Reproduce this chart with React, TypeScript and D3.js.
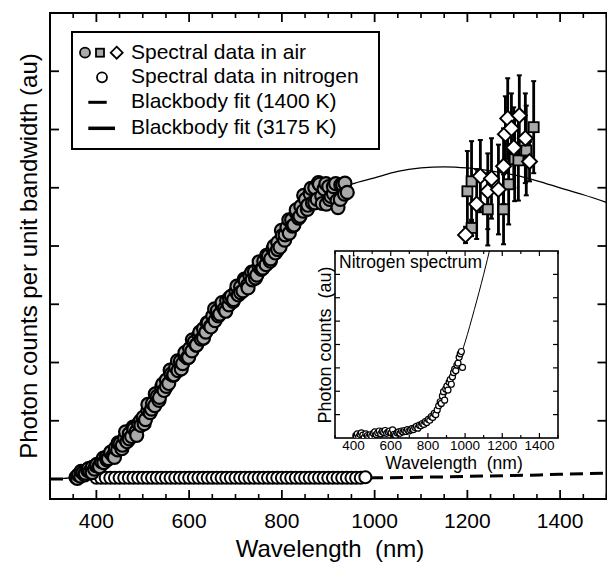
import React from 'react';
import * as d3 from 'd3';

const W = 607;
const H = 563;
const FONT = '"Liberation Sans", Arial, Helvetica, sans-serif';

// ---------- axis ticks ----------
const xMajorTicks = [400, 600, 800, 1000, 1200, 1400];
const xTickLabels = ['400', '600', '800', '1000', '1200', '1400'];
const yTicks = [1, 2, 3, 4, 5, 6, 7];
const insetXTicks = [400, 600, 800, 1000, 1200, 1400];
const insetXTickLabels = ['400', '600', '800', '1000', '1200', '1400'];
const insetYTicks = [1, 2, 3, 4, 5, 6, 7];

// ---------- legend ----------
const legendLabels = [
  'Spectral data in air',
  'Spectral data in nitrogen',
  'Blackbody fit (1400 K)',
  'Blackbody fit (3175 K)',
];

// ---------- spectral data in air (circles), two overlapping scans ----------
const airLambda = [356,361,366,371,376,381,386,391,396,401,406,411,416,421,426,431,436,441,446,451,456,461,466,471,476,481,486,491,496,501,506,511,516,521,526,531,536,541,546,551,556,561,566,571,576,581,586,591,596,601,606,611,616,621,626,631,636,641,646,651,656,661,666,671,676,681,686,691,696,701,706,711,716,721,726,731,736,741,746,751,756,761,766,771,776,781,786,791,796,801,806,811,816,821,826,831,836,841,846,851,856,861,866,871,876,881,886,891,896,901,906,911,916,921,926,931,936,941];
const airValue = [0.03,0.07,0.05,0.11,0.10,0.15,0.13,0.20,0.17,0.25,0.22,0.30,0.28,0.37,0.35,0.45,0.40,0.53,0.50,0.61,0.58,0.70,0.64,0.78,0.73,0.86,0.82,0.95,0.92,1.06,1.02,1.18,1.14,1.30,1.26,1.42,1.40,1.58,1.52,1.70,1.64,1.80,1.78,1.92,1.86,2.02,1.98,2.12,2.08,2.24,2.20,2.35,2.30,2.47,2.40,2.58,2.52,2.68,2.62,2.80,2.72,2.89,2.83,2.98,2.92,3.06,2.99,3.14,3.08,3.22,3.16,3.30,3.23,3.40,3.33,3.49,3.42,3.56,3.50,3.64,3.60,3.74,3.68,3.83,3.78,3.95,3.88,4.06,3.98,4.18,4.10,4.32,4.22,4.45,4.36,4.57,4.48,4.68,4.60,4.80,4.70,4.90,4.74,5.00,4.80,5.06,4.86,4.98,4.72,5.02,4.85,4.90,5.07,4.66,4.80,5.05,5.08,4.92];
const air2Lambda = [359,367,375,383,391,399,407,415,423,431,439,447,455,463,471,479,487,495,503,511,519,527,535,543,551,559,567,575,583,591,599,607,615,623,631,639,647,655,663,671,679,687,695,703,711,719,727,735,743,751,759,767,775,783,791,799,807,815,823,831,839,847,855,863,871,879,887,895,903,911,919,927,935];
const air2Value = [0.01,0.13,0.07,0.18,0.11,0.23,0.21,0.36,0.33,0.46,0.37,0.62,0.52,0.81,0.69,0.89,0.75,1.00,0.95,1.28,1.20,1.46,1.35,1.63,1.59,1.87,1.79,2.03,1.89,2.17,2.09,2.39,2.30,2.52,2.42,2.68,2.61,2.92,2.80,3.03,2.88,3.11,3.05,3.31,3.20,3.43,3.28,3.55,3.45,3.73,3.62,3.84,3.74,4.00,3.94,4.27,4.19,4.45,4.34,4.62,4.51,4.87,4.63,4.99,4.74,5.09,4.73,5.07,4.80,5.02,4.78,5.05,4.89];

// ---------- spectral data in air with error bars (squares / diamonds) ----------
const sqLambda = [1200, 1209, 1244, 1278, 1289, 1302, 1310, 1343, 1209, 1327];
const sqValue = [4.94, 5.11, 4.63, 4.63, 5.06, 5.49, 5.47, 6.04, 4.31, 5.64];
const sqError = [0.69, 0.69, 0.62, 0.60, 0.69, 0.72, 0.69, 0.79, 0.14, 0.77];

const diLambda = [1196, 1220, 1228, 1244, 1252, 1267, 1278, 1282, 1287, 1300, 1312, 1295, 1325, 1334];
const diValue = [4.19, 4.72, 5.20, 4.94, 5.16, 4.97, 5.37, 5.92, 6.19, 5.69, 6.24, 6.02, 5.85, 5.45];
const diError = [0.14, 0.60, 0.62, 0.65, 0.69, 0.77, 0.65, 0.65, 0.69, 0.69, 0.69, 0.60, 0.77, 0.34];

// ---------- spectral data in nitrogen (main) ----------
const n2Lambda = [400,410,420,430,440,450,460,470,480,490,500,510,520,530,540,550,560,570,580,590,600,610,620,630,640,650,660,670,680,690,700,710,720,730,740,750,760,770,780,790,800,810,820,830,840,850,860,870,880,890,900,910,920,930,940,950,960,970,980];
const n2Value = [0.02,0.02,0.02,0.02,0.02,0.02,0.02,0.02,0.02,0.02,0.02,0.02,0.02,0.02,0.02,0.02,0.02,0.02,0.02,0.02,0.02,0.02,0.02,0.02,0.02,0.02,0.02,0.02,0.02,0.02,0.02,0.02,0.02,0.02,0.02,0.02,0.02,0.02,0.02,0.02,0.02,0.02,0.02,0.02,0.02,0.02,0.02,0.02,0.02,0.02,0.02,0.02,0.02,0.02,0.02,0.02,0.02,0.02,0.03];

// ---------- blackbody fits ----------
const fit3175Lambda = [300,330,360,400,450,500,550,600,650,700,750,800,850,900,950,1000,1050,1100,1150,1200,1250,1300,1350,1400,1450,1500];
const fit3175Value = [0.0,0.01,0.04,0.2,0.55,1.0,1.62,2.18,2.72,3.16,3.58,4.12,4.62,4.88,5.06,5.17,5.28,5.34,5.36,5.34,5.29,5.22,5.12,5.0,4.88,4.75];
const fit1400Lambda = [300,600,800,900,1000,1100,1200,1300,1400,1500];
const fit1400Value = [0.0,0.0,0.005,0.01,0.02,0.03,0.045,0.06,0.08,0.1];

// ---------- inset: nitrogen spectrum ----------
const insetLambda = [412,420,428,435,442,450,458,466,474,482,490,498,506,514,522,530,538,546,554,562,570,578,586,594,602,610,618,626,634,642,650,658,666,674,682,690,698,706,714,722,730,738,746,754,762,770,778,786,794,802,810,818,826,834,842,850,858,866,872,878,884,890,896,902,908,914,920,926,932,938,944,950,956,962,968,974,980,986];
const insetValue = [0.10,0.18,0.05,0.15,0.22,0.12,0.02,0.18,0.10,0.05,0.14,0.08,0.20,0.26,0.15,0.22,0.30,0.18,0.28,0.24,0.32,0.20,0.26,0.30,0.22,0.35,0.16,0.12,0.22,0.26,0.20,0.30,0.26,0.32,0.28,0.36,0.30,0.34,0.40,0.36,0.45,0.50,0.42,0.55,0.52,0.62,0.58,0.70,0.66,0.80,0.76,0.92,0.88,1.05,1.00,1.20,1.38,1.55,1.48,1.80,1.98,1.62,2.10,2.22,2.05,2.38,2.50,2.30,2.62,2.80,2.95,2.88,3.12,3.20,3.45,3.60,3.70,3.02];
const insetFitLambda = [400,500,600,700,750,800,850,900,950,1000,1050,1100,1140];
const insetFitValue = [0.02,0.05,0.12,0.3,0.45,0.72,1.15,1.9,2.9,4.1,5.5,7.0,8.3];

// ---------- scales ----------
const x = d3.scaleLinear().domain([300, 1500]).range([50, 606.5]);
const y = d3.scaleLinear().domain([-0.343, 8]).range([499, 13]);
const xi = d3.scaleLinear().domain([300, 1500]).range([335, 558]);
const yi = d3.scaleLinear().domain([0, 8]).range([438, 251]);

const GRAY = '#a9a9a9';

function diamondPath(cx: number, cy: number, r: number) {
  return `M${cx},${cy - r}L${cx + r},${cy}L${cx},${cy + r}L${cx - r},${cy}Z`;
}

export default function App() {
  const line = d3
    .line<[number, number]>()
    .x((d) => x(d[0]))
    .y((d) => y(d[1]))
    .curve(d3.curveMonotoneX);
  const lineI = d3
    .line<[number, number]>()
    .x((d) => xi(d[0]))
    .y((d) => yi(d[1]))
    .curve(d3.curveMonotoneX);

  const fit3175 = fit3175Lambda.map((l, i) => [l, fit3175Value[i]] as [number, number]);
  const fit1400 = fit1400Lambda.map((l, i) => [l, fit1400Value[i]] as [number, number]);
  const insetFit = insetFitLambda.map((l, i) => [l, insetFitValue[i]] as [number, number]);

  const xMinor = d3.range(300, 1501, 50).filter((v) => v % 200 !== 0);
  const xiMinor = d3.range(300, 1501, 100).filter((v) => v % 200 !== 0);

  const [x0, x1] = x.range();
  const [yB, yT] = y.range();
  const [xi0, xi1] = xi.range();
  const [yiB, yiT] = yi.range();

  const errBars = [
    ...sqLambda.map((l, i) => ({ l, v: sqValue[i], e: sqError[i] })),
    ...diLambda.map((l, i) => ({ l, v: diValue[i], e: diError[i] })),
  ];

  // merge the two air scans by wavelength so they overlap like the original plot
  const airPts = [
    ...airLambda.map((l, i) => ({ l, v: airValue[i] })),
    ...air2Lambda.map((l, i) => ({ l, v: air2Value[i] })),
  ].sort((a, b) => a.l - b.l);

  return (
    <svg
      width={W}
      height={H}
      style={{ position: 'absolute', left: 0, top: 0, background: '#fff' }}
      fontFamily={FONT}
    >
      <defs>
        <clipPath id="mainClip">
          <rect x={x0} y={yT} width={x1 - x0} height={yB - yT} />
        </clipPath>
        <clipPath id="insetClip">
          <rect x={xi0} y={yiT} width={xi1 - xi0} height={yiB - yiT} />
        </clipPath>
      </defs>
      <rect x={0} y={0} width={W} height={H} fill="#fff" />

      {/* blackbody fits */}
      <g clipPath="url(#mainClip)">
        <path d={line(fit1400) || ''} fill="none" stroke="#000" strokeWidth={3} strokeDasharray="13,7" />
        <path d={line(fit3175) || ''} fill="none" stroke="#000" strokeWidth={1.3} />
      </g>

      {/* nitrogen circles */}
      {n2Lambda.map((l, i) => (
        <circle key={'n' + i} cx={x(l)} cy={y(n2Value[i])} r={6} fill="#fff" stroke="#000" strokeWidth={2} />
      ))}

      {/* air circles */}
      {airPts.map((d, i) => (
        <circle key={'a' + i} cx={x(d.l)} cy={y(d.v)} r={6.5} fill={GRAY} stroke="#000" strokeWidth={2.2} />
      ))}

      {/* error bars */}
      {errBars.map((d, i) => (
        <g key={'e' + i} stroke="#000" strokeWidth={2.8}>
          <line x1={x(d.l)} x2={x(d.l)} y1={y(d.v - d.e)} y2={y(d.v + d.e)} />
          <line x1={x(d.l) - 2.5} x2={x(d.l) + 2.5} y1={y(d.v - d.e)} y2={y(d.v - d.e)} strokeWidth={2} />
          <line x1={x(d.l) - 2.5} x2={x(d.l) + 2.5} y1={y(d.v + d.e)} y2={y(d.v + d.e)} strokeWidth={2} />
        </g>
      ))}
      {sqLambda.map((l, i) => (
        <rect key={'s' + i} x={x(l) - 5} y={y(sqValue[i]) - 5} width={10} height={10} fill={GRAY} stroke="#000" strokeWidth={1.8} />
      ))}
      {diLambda.map((l, i) => (
        <path key={'d' + i} d={diamondPath(x(l), y(diValue[i]), 7.5)} fill="#fff" stroke="#000" strokeWidth={1.9} />
      ))}

      {/* main frame */}
      <rect x={x0} y={yT} width={x1 - x0} height={yB - yT} fill="none" stroke="#000" strokeWidth={2} />
      {/* x ticks */}
      {xMajorTicks.map((t) => (
        <g key={'xt' + t} stroke="#000" strokeWidth={1.8}>
          <line x1={x(t)} x2={x(t)} y1={yB} y2={yB - 9} />
          <line x1={x(t)} x2={x(t)} y1={yT} y2={yT + 9} />
        </g>
      ))}
      {xMinor.map((t) => (
        <g key={'xm' + t} stroke="#000" strokeWidth={1.6}>
          <line x1={x(t)} x2={x(t)} y1={yB} y2={yB - 5} />
          <line x1={x(t)} x2={x(t)} y1={yT} y2={yT + 5} />
        </g>
      ))}
      {yTicks.map((t) => (
        <g key={'yt' + t} stroke="#000" strokeWidth={1.8}>
          <line x1={x0} x2={x0 + 9} y1={y(t)} y2={y(t)} />
          <line x1={x1} x2={x1 - 9} y1={y(t)} y2={y(t)} />
        </g>
      ))}
      {xMajorTicks.map((t, i) => (
        <text key={'xl' + t} x={x(t)} y={528} textAnchor="middle" fontSize={21}>
          {xTickLabels[i]}
        </text>
      ))}
      <text x={330} y={557} textAnchor="middle" fontSize={24}>
        Wavelength{'\u00a0\u00a0'}(nm)
      </text>
      <text transform="translate(37,256) rotate(-90)" textAnchor="middle" fontSize={24}>
        Photon counts per unit bandwidth (au)
      </text>

      {/* legend */}
      <rect x={72} y={32} width={307} height={117} fill="#fff" stroke="#000" strokeWidth={2} />
      <circle cx={85} cy={52.7} r={5} fill={GRAY} stroke="#000" strokeWidth={1.8} />
      <rect x={96} y={48.7} width={8} height={8} fill={GRAY} stroke="#000" strokeWidth={1.8} />
      <path d={diamondPath(116.7, 52.7, 6)} fill="#fff" stroke="#000" strokeWidth={1.8} />
      <circle cx={102} cy={77.3} r={5} fill="#fff" stroke="#000" strokeWidth={1.8} />
      <line x1={88.3} x2={106.7} y1={102.3} y2={102.3} stroke="#000" strokeWidth={3} />
      <line x1={88.3} x2={115} y1={128.3} y2={128.3} stroke="#000" strokeWidth={3.5} />
      {legendLabels.map((s, i) => (
        <text key={'lg' + i} x={131} y={[58.5, 83, 108, 134][i]} fontSize={21}>
          {s}
        </text>
      ))}

      {/* inset */}
      <rect x={xi0} y={yiT} width={xi1 - xi0} height={yiB - yiT} fill="#fff" stroke="#000" strokeWidth={1.6} />
      <g clipPath="url(#insetClip)">
        <path d={lineI(insetFit) || ''} fill="none" stroke="#000" strokeWidth={1} />
        {insetLambda.map((l, i) => (
          <circle key={'i' + i} cx={xi(l)} cy={yi(insetValue[i])} r={3} fill="#fff" stroke="#000" strokeWidth={1.2} />
        ))}
      </g>
      {insetXTicks.map((t) => (
        <g key={'ixt' + t} stroke="#000" strokeWidth={1.2}>
          <line x1={xi(t)} x2={xi(t)} y1={yiB} y2={yiB - 5} />
          <line x1={xi(t)} x2={xi(t)} y1={yiT} y2={yiT + 5} />
        </g>
      ))}
      {xiMinor.map((t) => (
        <g key={'ixm' + t} stroke="#000" strokeWidth={1.2}>
          <line x1={xi(t)} x2={xi(t)} y1={yiB} y2={yiB - 3} />
          <line x1={xi(t)} x2={xi(t)} y1={yiT} y2={yiT + 3} />
        </g>
      ))}
      {insetYTicks.map((t) => (
        <g key={'iyt' + t} stroke="#000" strokeWidth={1.2}>
          <line x1={xi0} x2={xi0 + 5} y1={yi(t)} y2={yi(t)} />
          <line x1={xi1} x2={xi1 - 5} y1={yi(t)} y2={yi(t)} />
        </g>
      ))}
      {insetXTicks.map((t, i) => (
        <text key={'ixl' + t} x={xi(t)} y={450} textAnchor="middle" fontSize={13.5}>
          {insetXTickLabels[i]}
        </text>
      ))}
      <text x={454} y={469} textAnchor="middle" fontSize={17.5}>
        Wavelength{'\u00a0\u00a0'}(nm)
      </text>
      <text transform="translate(331,345) rotate(-90)" textAnchor="middle" fontSize={18}>
        Photon counts{'\u00a0\u00a0'}(au)
      </text>
      <text x={339} y={268} fontSize={17.5}>
        Nitrogen spectrum
      </text>
    </svg>
  );
}
